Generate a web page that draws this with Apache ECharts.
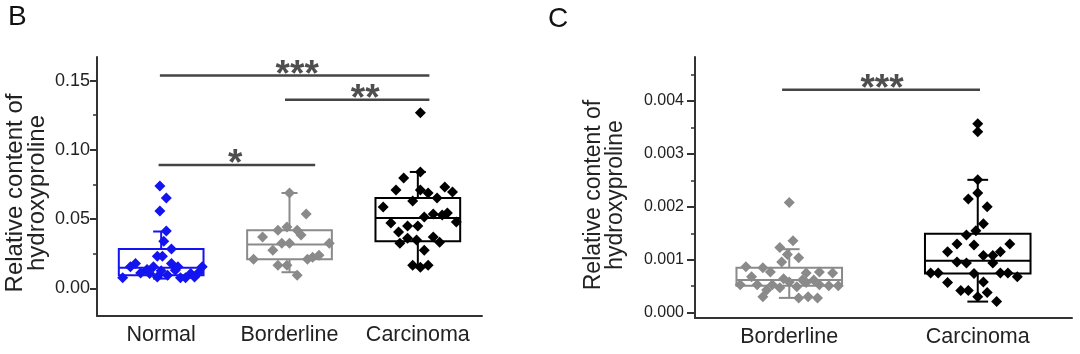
<!DOCTYPE html>
<html>
<head>
<meta charset="utf-8">
<script src="https://cdn.jsdelivr.net/npm/echarts@6/dist/echarts.min.js"></script>
<style>
html,body{margin:0;padding:0;background:#fff;}
#chart{width:1080px;height:354px;}
</style>
</head>
<body>
<div id="chart"></div>
<script>
// ---------- data ----------
const categoriesB = ['Normal', 'Borderline', 'Carcinoma'];
const categoriesC = ['Borderline', 'Carcinoma'];
const tickLabelsB = [0, 0.05, 0.10, 0.15];
const minorTicksB = [0.025, 0.075, 0.125];
const tickLabelsC = [0, 0.001, 0.002, 0.003, 0.004];
const minorTicksC = [0.0005, 0.0015, 0.0025, 0.0035, 0.0045];
const yTitle = 'Relative content of\nhydroxyproline';

// box statistics: [lower whisker, Q1, median, Q3, upper whisker]
const boxNormalB = [0.007, 0.0095, 0.0148, 0.0283, 0.041];
const boxBorderlineB = [0.0116, 0.021, 0.0317, 0.042, 0.0688];
const boxCarcinomaB = [0.0152, 0.034, 0.0507, 0.0652, 0.084];
const boxBorderlineC = [0.00028, 0.00051, 0.00062, 0.00085, 0.0012];
const boxCarcinomaC = [0.00021, 0.00074, 0.00098, 0.00149, 0.00251];

// individual points: [horizontal jitter (category units), value]
const normalB = [[-0.01,0.0739],[0.04,0.0652],[-0.01,0.0558],[0.04,0.0413],[0.02,0.034],[0.08,0.0283],
  [-0.03,0.0232],[0.01,0.0232],[-0.30,0.0077],[-0.24,0.0155],[-0.20,0.0179],[-0.16,0.0111],[-0.11,0.0135],
  [-0.06,0.0155],[-0.03,0.0082],[0.0,0.0126],[0.05,0.0094],[0.08,0.0179],[0.11,0.013],[0.15,0.0077],
  [0.19,0.0077],[0.23,0.0106],[0.26,0.0082],[0.32,0.0155],[-0.09,0.0106],[0.13,0.0155],[0.29,0.0112]];
const borderlineB = [[0.0,0.0688],[0.13,0.0536],[-0.09,0.042],[-0.02,0.0442],[0.06,0.042],[0.09,0.0384],
  [-0.21,0.037],[-0.06,0.0326],[0.0,0.0326],[-0.13,0.0275],[0.31,0.0326],[-0.28,0.021],[-0.09,0.0167],
  [-0.02,0.0167],[0.14,0.021],[0.18,0.0225],[0.23,0.0239],[0.06,0.0094]];
const carcinomaB = [[0.02,0.1268],[0.02,0.084],[-0.11,0.0797],[-0.17,0.071],[0.02,0.071],[0.08,0.0688],
  [0.21,0.0732],[0.15,0.0652],[-0.04,0.063],[-0.27,0.0587],[-0.21,0.0471],[0.05,0.0514],[0.12,0.0536],
  [0.19,0.0529],[-0.08,0.0449],[0.0,0.0449],[-0.15,0.0406],[-0.14,0.0326],[-0.08,0.0362],[-0.01,0.0348],
  [0.12,0.037],[0.17,0.0333],[0.05,0.0275],[-0.04,0.0167],[0.02,0.0152],[0.08,0.0167],[0.27,0.0696],
  [0.23,0.0543],[0.30,0.0478]];
const borderlineC = [[0.0,0.00208],[0.02,0.00136],[-0.05,0.00123],[-0.01,0.0011],[0.05,0.00104],[-0.04,0.00096],
  [-0.23,0.00087],[-0.14,0.00085],[-0.10,0.00077],[-0.20,0.00068],[0.09,0.00075],[0.16,0.00077],[0.23,0.00075],
  [-0.26,0.00053],[-0.17,0.00053],[-0.12,0.00043],[-0.09,0.00053],[-0.05,0.00047],[0.0,0.00058],[0.04,0.00049],
  [0.09,0.00057],[0.13,0.00062],[0.16,0.00053],[0.21,0.00051],[0.26,0.00051],[-0.14,0.0003],[0.05,0.00028],
  [0.10,0.0003],[0.15,0.00028],[0.07,0.00062],[-0.03,0.00064]];
const carcinomaC = [[0.0,0.00357],[0.0,0.00342],[0.0,0.00251],[0.0,0.00226],[-0.05,0.00215],[0.05,0.002],
  [0.03,0.00168],[-0.01,0.00155],[-0.06,0.00147],[-0.11,0.0013],[-0.16,0.00115],[-0.02,0.00128],[0.17,0.0013],
  [0.12,0.00115],[0.03,0.00108],[0.08,0.00108],[-0.11,0.00096],[-0.06,0.00094],[0.08,0.00094],[-0.25,0.00075],
  [-0.21,0.00075],[-0.02,0.00074],[0.12,0.00075],[0.16,0.00075],[0.21,0.00068],[-0.16,0.00057],[0.03,0.00058],
  [-0.09,0.00042],[-0.05,0.00042],[0.0,0.0003],[0.05,0.00038],[0.10,0.00021]];

// significance brackets: [from (category units), to, level, star label position, stars]
const sigB = [[-0.01, 2.09, 0.1536, 1.06, '***'], [0.965, 2.09, 0.1362, 1.59, '**'], [-0.02, 1.2, 0.0891, 0.576, '*']];
const sigC = [[-0.038, 1.012, 0.00421, 0.492, '***']];

// ---------- styling ----------
const FONT = '"Liberation Sans", Arial, sans-serif';
const AXIS_COLOR = '#333';
const TEXT_COLOR = '#222';
const colorsB = ['#1414f0', '#8a8a8a', '#000000'];
const colorsC = ['#8a8a8a', '#000000'];

function boxRenderer(boxFrac, capFrac, colors) {
  return function (params, api) {
    const idx = api.value(0);
    const lo = api.value(1), q1 = api.value(2), med = api.value(3), q3 = api.value(4), hi = api.value(5);
    const band = api.size([1, 0])[0];
    const hw = band * boxFrac / 2, cw = band * capFrac / 2;
    const pLo = api.coord([idx, lo]), pQ1 = api.coord([idx, q1]), pMed = api.coord([idx, med]);
    const pQ3 = api.coord([idx, q3]), pHi = api.coord([idx, hi]);
    const x = pQ1[0];
    const st = { stroke: colors[idx], lineWidth: 2, fill: null };
    return {
      type: 'group',
      children: [
        { type: 'rect', shape: { x: x - hw, y: pQ3[1], width: hw * 2, height: pQ1[1] - pQ3[1] }, style: st },
        { type: 'line', shape: { x1: x - hw, y1: pMed[1], x2: x + hw, y2: pMed[1] }, style: st },
        { type: 'line', shape: { x1: x, y1: pQ3[1], x2: x, y2: pHi[1] }, style: st },
        { type: 'line', shape: { x1: x, y1: pQ1[1], x2: x, y2: pLo[1] }, style: st },
        { type: 'line', shape: { x1: x - cw, y1: pHi[1], x2: x + cw, y2: pHi[1] }, style: st },
        { type: 'line', shape: { x1: x - cw, y1: pLo[1], x2: x + cw, y2: pLo[1] }, style: st }
      ]
    };
  };
}

function catAxis(grid, cats) {
  return {
    type: 'category', gridIndex: grid, data: cats, position: 'bottom',
    axisLine: { onZero: false, lineStyle: { color: AXIS_COLOR, width: 2 } },
    axisTick: { alignWithLabel: true, interval: 0, length: 6, lineStyle: { color: AXIS_COLOR, width: 2 } },
    axisLabel: { interval: 0, hideOverlap: false, fontFamily: FONT, fontSize: 21.5, color: TEXT_COLOR, margin: 8 },
    splitLine: { show: false }
  };
}
function hiddenX(grid, n) {
  return { type: 'value', gridIndex: grid, min: -0.5, max: n - 0.5, show: false };
}
function majorY(grid, min, max, ticks, digits, fs, margin, tickLen) {
  return {
    type: 'value', gridIndex: grid, min: min, max: max, position: 'left',
    axisLine: { show: true, onZero: false, lineStyle: { color: AXIS_COLOR, width: 2 } },
    axisTick: { show: true, customValues: ticks, length: tickLen, lineStyle: { color: AXIS_COLOR, width: 2 } },
    axisLabel: { customValues: ticks, fontFamily: FONT, fontSize: fs, color: TEXT_COLOR, margin: margin,
      formatter: v => Number(v).toFixed(digits) },
    splitLine: { show: false }
  };
}
function minorY(grid, min, max, ticks) {
  return {
    type: 'value', gridIndex: grid, min: min, max: max, position: 'left',
    axisLine: { show: false, onZero: false },
    axisTick: { show: true, customValues: ticks, length: 4, lineStyle: { color: AXIS_COLOR, width: 1.5 } },
    axisLabel: { show: false },
    splitLine: { show: false }
  };
}

function pointsSeries(xIdx, yIdx, catIndex, pts, color) {
  return {
    type: 'scatter', xAxisIndex: xIdx, yAxisIndex: yIdx, symbol: 'diamond', symbolSize: 11,
    itemStyle: { color: color, opacity: 1 }, silent: true,
    data: pts.map(p => [catIndex + p[0], p[1]])
  };
}
function sigSeries(xIdx, yIdx, sig, dy) {
  const out = [];
  sig.forEach(s => {
    out.push({
      type: 'line', xAxisIndex: xIdx, yAxisIndex: yIdx, showSymbol: false, symbol: 'none', silent: true,
      lineStyle: { color: '#444', width: 2.5 }, data: [[s[0], s[2]], [s[1], s[2]]]
    });
    out.push({
      type: 'scatter', xAxisIndex: xIdx, yAxisIndex: yIdx, symbolSize: 1, silent: true,
      itemStyle: { color: 'rgba(0,0,0,0)' },
      label: { show: true, position: 'inside', formatter: s[4], fontFamily: FONT, fontWeight: 'bold',
        fontSize: 37, color: '#222', offset: [0, dy] },
      labelLayout: { hideOverlap: false },
      data: [[s[3], s[2]]]
    });
  });
  return out;
}

const chart = echarts.init(document.getElementById('chart'), null, { renderer: 'canvas' });
const option = {
  animation: false,
  backgroundColor: '#ffffff',
  grid: [
    { left: 97, top: 57, width: 385, height: 259 },
    { left: 695, top: 57, width: 377, height: 261 }
  ],
  xAxis: [catAxis(0, categoriesB), hiddenX(0, 3), catAxis(1, categoriesC), hiddenX(1, 2)],
  yAxis: [
    majorY(0, -0.02, 0.167, tickLabelsB, 2, 18, 7, 7),
    minorY(0, -0.02, 0.167, minorTicksB),
    majorY(1, -0.0001, 0.00483, tickLabelsC, 3, 16, 11, 8),
    minorY(1, -0.0001, 0.00483, minorTicksC)
  ],
  graphic: [
    { type: 'text', x: 8, y: 17, style: { text: 'B', font: '28px ' + FONT, fill: '#111', align: 'left', verticalAlign: 'middle' } },
    { type: 'text', x: 548, y: 19, style: { text: 'C', font: '28px ' + FONT, fill: '#111', align: 'left', verticalAlign: 'middle' } },
    { type: 'text', x: 26, y: 193, rotation: Math.PI / 2,
      style: { text: yTitle, font: '24px ' + FONT, fill: TEXT_COLOR, align: 'center', verticalAlign: 'middle', lineHeight: 22 } },
    { type: 'text', x: 605, y: 195, rotation: Math.PI / 2,
      style: { text: yTitle, font: '23px ' + FONT, fill: TEXT_COLOR, align: 'center', verticalAlign: 'middle', lineHeight: 22 } }
  ],
  series: [
    {
      type: 'custom', xAxisIndex: 0, yAxisIndex: 0, silent: true,
      renderItem: boxRenderer(0.66, 0.125, colorsB),
      encode: { x: 0, y: [1, 2, 3, 4, 5] },
      data: [boxNormalB, boxBorderlineB, boxCarcinomaB].map((b, i) => [i].concat(b))
    },
    pointsSeries(1, 0, 0, normalB, colorsB[0]),
    pointsSeries(1, 0, 1, borderlineB, colorsB[1]),
    pointsSeries(1, 0, 2, carcinomaB, colorsB[2]),
    ...sigSeries(1, 0, sigB, -8),
    {
      type: 'custom', xAxisIndex: 2, yAxisIndex: 2, silent: true,
      renderItem: boxRenderer(0.56, 0.11, colorsC),
      encode: { x: 0, y: [1, 2, 3, 4, 5] },
      data: [boxBorderlineC, boxCarcinomaC].map((b, i) => [i].concat(b))
    },
    pointsSeries(3, 2, 0, borderlineC, colorsC[0]),
    pointsSeries(3, 2, 1, carcinomaC, colorsC[1]),
    ...sigSeries(3, 2, sigC, -15)
  ]
};
chart.setOption(option);
</script>
</body>
</html>
